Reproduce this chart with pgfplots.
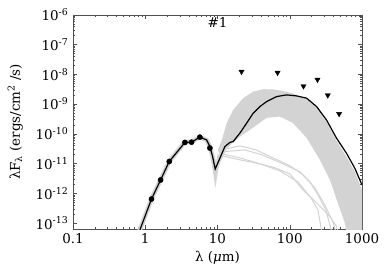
\documentclass[border=0pt]{standalone}
\usepackage{fontspec}
\setmainfont{DejaVu Serif}
\usepackage{pgfplots}
\pgfplotsset{compat=1.18}
\definecolor{lgray}{RGB}{211,211,211}
\definecolor{axgray}{RGB}{80,80,80}
\begin{document}
\fontsize{13.5}{16}\selectfont
\begin{tikzpicture}
\useasboundingbox (0,0) rectangle (386bp,276bp);
\begin{axis}[
  at={(73bp,47bp)}, anchor=south west,
  scale only axis, width=289bp, height=214.3bp,
  xmode=log, ymode=log,
  xmin=0.1, xmax=1000, ymin=6.3e-14, ymax=1e-6,
  xtick={0.1,1,10,100,1000},
  xticklabels={0.1,1,10,100,1000},
  ytick={1e-13,1e-12,1e-11,1e-10,1e-9,1e-8,1e-7,1e-6},
  yticklabels={10\textsuperscript{-13},10\textsuperscript{-12},10\textsuperscript{-11},10\textsuperscript{-10},10\textsuperscript{-9},10\textsuperscript{-8},10\textsuperscript{-7},10\textsuperscript{-6}},
  axis line style={axgray},
  tick style={axgray},
  major tick length=4.5bp, minor tick length=2.5bp,
  tick label style={font=\fontsize{13.5}{16}\selectfont},
  xlabel={λ (\textit{μ}m)},
  ylabel={λF\textsubscript{λ} (ergs/cm\textsuperscript{2} /s)},
  every axis x label/.style={at={(axis description cs:0.5,-0.135)}, anchor=center, font=\fontsize{13.5}{16}\selectfont},
  every axis y label/.style={at={(axis description cs:-0.2,0.5)}, rotate=90, anchor=center, font=\fontsize{13.5}{16}\selectfont},
]
% main grey band of models
\addplot[fill=lgray, draw=none] coordinates {
 (10.1,2.88e-11) (11.5,6.2e-11) (13.4,2.27e-10) (16.5,6.3e-10) (22.6,1.57e-9)
 (31.2,2.61e-9) (42.9,3.14e-9) (58.9,3.09e-9) (80.4,2.75e-9) (110,2.27e-9)
 (171,1.48e-9) (235,7.4e-10) (323,2.5e-10) (444,5.8e-11) (611,1.68e-11)
 (794,5.3e-12) (1000,1.31e-12) (1000,4e-14) (617,4e-14) (578,1.02e-13)
 (462,4.8e-13) (359,2.84e-12) (261,1.33e-11) (171,7.3e-11) (110,2.32e-10)
 (72.9,3.78e-10) (47.8,3.42e-10) (28.1,1.35e-10) (20.4,7.9e-11) (16.3,4.95e-11)
 (12.6,2.88e-11) (10.8,1.96e-11)
} -- cycle;
% grey models along the near-IR part
\addplot[lgray, line width=4.5bp, line join=round] coordinates {
 (0.76,3e-14) (1.22,6.4e-13) (1.63,2.8e-12) (2.15,1.17e-11) (3.54,5.3e-11)
 (4.38,5.4e-11) (5.7,7.7e-11) (7.07,6.2e-11) (7.85,3.7e-11) (8.55,1.72e-11)
 (9.29,6.5e-12) (10.8,1.52e-11) (12.65,3.7e-11) (14.8,5.1e-11)
};
\addplot[lgray, line width=3bp] coordinates {
 (8.3,2.5e-11) (9.35,3.3e-12) (10.5,2.0e-11)
};
% low outlier models
\addplot[lgray, line width=1bp] coordinates {
 (11.5,2.88e-11) (20.4,3.93e-11) (34.0,2.88e-11) (58.4,1.55e-11) (100.3,8.4e-12)
 (151.7,4.2e-12) (222,1.53e-12) (305,4.1e-13) (395,1.11e-13) (434,5e-14)
};
\addplot[lgray, line width=1bp] coordinates {
 (11.5,2.47e-11) (23.9,2.88e-11) (41.1,1.96e-11) (80.4,9.8e-12) (138,5.3e-12)
 (189.7,2.43e-12) (245,8.9e-13) (316,2.8e-13) (382,5e-14)
};
\addplot[lgray, line width=1bp] coordinates {
 (11.5,1.81e-11) (20.4,1.33e-11) (34.7,1.03e-11) (62.2,7.2e-12) (100.3,4.5e-12)
 (151.7,1.31e-12) (235,4.8e-13) (359,1.66e-13) (444,7.7e-14) (470,5e-14)
};
\addplot[lgray, line width=1bp] coordinates {
 (11.5,2.12e-11) (20.4,1.55e-11) (38.6,9.8e-12) (72.9,5.7e-12) (129.4,2.43e-12)
 (195.9,7.1e-13) (245,2.8e-13) (278,5e-14)
};
% best-fit model
\addplot[black, line width=1.2bp] coordinates {
 (0.76,3e-14) (1.22,6.4e-13) (1.63,2.8e-12) (2.15,1.17e-11) (3.54,5.1e-11)
 (4.38,5.2e-11) (5.7,7.7e-11) (7.07,6.2e-11) (7.85,3.7e-11) (8.55,1.72e-11)
 (9.29,6.5e-12) (10.8,1.52e-11) (12.65,3.7e-11) (14.8,5.1e-11) (16.5,5.5e-11)
 (20.4,1.05e-10) (25.3,2.27e-10) (31.2,4.9e-10) (38.6,8.2e-10) (47.8,1.2e-9)
 (65.6,1.77e-9) (90.3,2.02e-9) (124,1.87e-9) (171,1.57e-9) (235,8.2e-10)
 (323,2.9e-10) (444,7.1e-11) (611,2.2e-11) (794,7e-12) (1000,1.9e-12)
};
% photometry
\addplot[only marks, mark=*, mark size=2.6bp, black] coordinates {
 (1.22,6.4e-13) (1.63,2.8e-12) (2.15,1.17e-11) (3.54,5.1e-11)
 (4.38,5.2e-11) (5.7,7.7e-11) (7.85,3.3e-11)
};
% upper limits
\addplot[only marks, mark=triangle*, mark size=3bp, mark options={rotate=180}, black] coordinates {
 (21.5,1.22e-8) (67.8,1.13e-8) (155,3.96e-9) (242,6.6e-9) (336,1.97e-9) (482,4.65e-10)
};
\node[font=\fontsize{13.5}{16}\selectfont] at (axis cs:10,5.3e-7) {\#1};
\end{axis}
\end{tikzpicture}
\end{document}
